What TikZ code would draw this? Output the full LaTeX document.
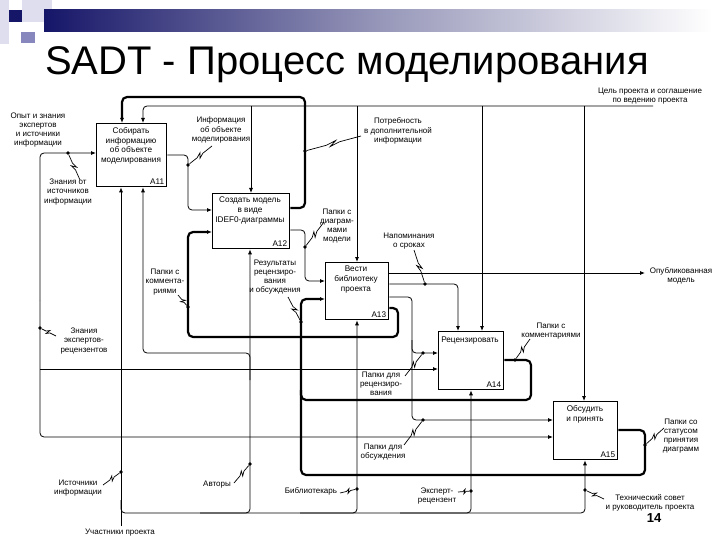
\documentclass[tikz,border=0pt]{standalone}
\usepackage{fontspec}
\setmainfont{Liberation Sans}
\usetikzlibrary{calc,arrows.meta}
\definecolor{navy}{RGB}{22,22,105}
\definecolor{barmid}{RGB}{150,150,185}
\definecolor{sqgray}{RGB}{135,135,190}
\definecolor{sqlight}{RGB}{222,222,238}
\newcommand\squiggle[2]{\draw[squig] (#1) -- ($(#1)!0.38!(#2)$) -- ($(#1)!0.56!(#2)!2.2pt!90:(#2)$) -- ($(#1)!0.44!(#2)!2.2pt!-90:(#2)$) -- ($(#1)!0.62!(#2)$) -- (#2);}
\tikzset{
  box/.style={draw, line width=1.3pt, anchor=north west, inner sep=0pt},
  lbl/.style={font=\fontsize{8}{9.2}\selectfont, align=center, inner sep=0pt},
  btxt/.style={font=\fontsize{8.2}{9.8}\selectfont, align=center, inner sep=0pt, anchor=north},
  bid/.style={font=\fontsize{8.2}{9.8}\selectfont, anchor=south east, inner sep=3pt},
  fine/.style={line width=0.8pt, rounded corners=4pt},
  fat/.style={line width=2.2pt, rounded corners=5pt},
  arr/.style={-{Latex[length=5pt,width=4pt]}},
  dotn/.style={circle, fill=black, inner sep=0pt, minimum size=3.6pt},
  squig/.style={line width=0.7pt}
}
\begin{document}
\begin{tikzpicture}[x=1pt,y=-1pt]
\useasboundingbox (0,0) rectangle (720,540);
\fill[white] (0,0) rectangle (720,540);
% decoration
\fill[sqlight] (0,0) rectangle (9,44);
\fill[sqlight] (22,0) rectangle (52,22);
\shade[left color=navy, right color=white, middle color=barmid] (44,10) rectangle (712,32);
\fill[navy] (9,10) rectangle (22,22);
\fill[sqgray] (21,32) rectangle (35,43);
% title
\node[anchor=base west, font=\fontsize{40}{46}\selectfont, inner sep=0pt] (title) at (45,75) {SADT - Процесс моделирования};
% boxes
\node[box, minimum width=70pt, minimum height=63pt] (A11) at (96,123) {};
\node[box, minimum width=77pt, minimum height=55pt] (A12) at (212,193) {};
\node[box, minimum width=63pt, minimum height=57pt] (A13) at (325,262) {};
\node[box, minimum width=65pt, minimum height=58pt] (A14) at (438,331) {};
\node[box, minimum width=64pt, minimum height=58pt] (A15) at (553,401) {};
\node[btxt] (A11t) at (131,127) {Собирать\\информацию\\об объекте\\моделирования};
\node[btxt] (A12t) at (250,197) {Создать модель\\в виде\\IDEF0-диаграммы};
\node[btxt] (A13t) at (356,266) {Вести\\библиотеку\\проекта};
\node[btxt] (A14t) at (470,337) {Рецензировать};
\node[btxt] (A15t) at (585,405) {Обсудить\\и принять};
\node[bid] (A11id) at (A11.south east) {A11};
\node[bid] (A12id) at (A12.south east) {A12};
\node[bid] (A13id) at (A13.south east) {A13};
\node[bid] (A14id) at (A14.south east) {A14};
\node[bid] (A15id) at (A15.south east) {A15};
% boundary coordinates
\coordinate (goal) at (653,106);
\coordinate (publ) at (645,273);
\coordinate (part) at (121,526);
% top: need for more information (thick)
\draw[fat,arr] (A12.east |- 0,208) -- (305,208) -- (305,97) -- (122,97) -- (A11.north -| 122,0);
% goal / agreement (thin)
\draw[fine,arr] (goal) -- (143,106) -- (A11.north -| 143,0);
\draw[fine,arr] (251,106) -- (A12.north -| 251,0);
\draw[fine,arr] (357,106) -- (A13.north -| 357,0);
\draw[fine,arr] (482,106) -- (A14.north -| 482,0);
\draw[fine,arr] (584,106) -- (A15.north -| 584,0);
% left input
\draw[fine,arr] (40,300) -- (40,153) -- (A11.west |- 0,153);
\draw[fine,arr] (40,300) -- (40,437) -- (A15.west |- 0,437);
\draw[fine,arr] (40,369) -- (A14.west |- 0,369);
% A11 output
\draw[fine,arr] (A11.east |- 0,155) -- (188,155) -- (188,210) -- (A12.west |- 0,210);
% A12 output (folders with diagrams)
\draw[fine,arr] (A12.east |- 0,230) -- (305,230) -- (305,281) -- (A13.west |- 0,281);
% A13 -> A12 (thick)
\draw[fat,arr] (A13.east |- 0,308) -- (398,308) -- (398,337) -- (188,337) -- (188,232) -- (A12.west |- 0,232);
% A13 outputs
\draw[fine,arr] (A13.east |- 0,273) -- (publ);
\draw[fine,arr] (A13.east |- 0,284) -- (458,284) -- (A14.north -| 458,0);
\draw[fine,arr] (A13.east |- 0,297) -- (412,297) -- (412,420) -- (A15.west |- 0,420);
\draw[fine,arr] (412,340) -- (412,353) -- (A14.west |- 0,353);
% A14 output loop
\draw[fat,arr] (A14.east |- 0,360) -- (531,360) -- (531,400) -- (301,400) -- (301,299) -- (A13.west |- 0,299);
% A15 output loop
\draw[fat] (A15.east |- 0,430) -- (645,430) -- (645,475) -- (301,475) -- (301,390);
% mechanisms
\draw[fine,arr] (part) -- (A11.south -| 121,0);
\draw[fine,arr] (121,500) -- (121,513) -- (250,513) -- (A12.south -| 250,0);
\draw[fine,arr] (200,513) -- (357,513) -- (A13.south -| 357,0);
\draw[fine,arr] (300,513) -- (471,513) -- (A14.south -| 471,0);
\draw[fine,arr] (400,513) -- (585,513) -- (A15.south -| 585,0);
\draw[fine,arr] (250,380) -- (250,353) -- (143,353) -- (A11.south -| 143,0);
% dots
\node[dotn] (dzn) at (68,153) {};
\node[dotn] (dek) at (40,328) {};
\node[dotn] (dinf) at (188,165) {};
\node[dotn] (dpotr) at (305,151) {};
\node[dotn] (dpap) at (305,247) {};
\node[dotn] (dkom) at (188,307) {};
\node[dotn] (drez) at (301,322) {};
\node[dotn] (dnap) at (425,284) {};
\node[dotn] (dkom2) at (515,360) {};
\node[dotn] (drec) at (423,353) {};
\node[dotn] (dobs) at (423,420) {};
\node[dotn] (dstat) at (645,445) {};
\node[dotn] (dist) at (121,472) {};
\node[dotn] (davt) at (250,464) {};
\node[dotn] (dbib) at (357,489) {};
\node[dotn] (deks) at (471,491) {};
\node[dotn] (dteh) at (585,490) {};
% labels
\node[lbl] (lopyt) at (38,130) {Опыт и знания\\экспертов\\и источники\\информации};
\node[lbl] (lzn) at (68,192) {Знания от\\источников\\информации};
\node[lbl] (linf) at (221,130) {Информация\\об объекте\\моделирования};
\node[lbl] (lpotr) at (398,131) {Потребность\\в дополнительной\\информации};
\node[lbl] (lgoal) at (650,96) {Цель проекта и соглашение\\по ведению проекта};
\node[lbl] (lpap) at (337,226) {Папки с\\диаграм-\\мами\\модели};
\node[lbl] (lkom) at (165,282) {Папки с\\коммента-\\риями};
\node[lbl] (lrez) at (275,277) {Результаты\\рецензиро-\\вания\\и обсуждения};
\node[lbl] (lnap) at (409,241) {Напоминания\\о сроках};
\node[lbl] (lpubl) at (681,276) {Опубликованная\\модель};
\node[lbl] (lkom2) at (551,331) {Папки с\\комментариями};
\node[lbl] (lrec) at (381,384) {Папки для\\рецензиро-\\вания};
\node[lbl] (lobs) at (383,452) {Папки для\\обсуждения};
\node[lbl] (lek) at (84,341) {Знания\\экспертов-\\рецензентов};
\node[lbl] (lstat) at (681,436) {Папки со\\статусом\\принятия\\диаграмм};
\node[lbl] (list) at (78,488) {Источники\\информации};
\node[lbl] (lavt) at (217,485) {Авторы};
\node[lbl] (lbib) at (311,491) {Библиотекарь};
\node[lbl] (leks) at (437,496) {Эксперт-\\рецензент};
\node[lbl] (lteh) at (650,503) {Технический совет\\и руководитель проекта};
\node[lbl] (lpart) at (120,533) {Участники проекта};
\node[font=\fontsize{13}{15}\selectfont\bfseries, inner sep=0pt] (pnum) at (654,518) {14};
% squiggle anchors
\coordinate (szn) at (80,180);
\coordinate (sek) at (56,336);
\coordinate (sinf) at (212,146);
\coordinate (spotr) at (361,136);
\coordinate (spap) at (324,222);
\coordinate (skom) at (178,295);
\coordinate (srez) at (288,297);
\coordinate (snap) at (414,250);
\coordinate (skom2) at (530,339);
\coordinate (srec) at (405,376);
\coordinate (sobs) at (404,445);
\coordinate (sstat) at (664,428);
\coordinate (sist) at (103,485);
\coordinate (savt) at (234,483);
\coordinate (sbib) at (340,493);
\coordinate (seks) at (458,492);
\coordinate (steh) at (604,499);
\squiggle{szn}{dzn}
\squiggle{sek}{dek}
\squiggle{sinf}{dinf}
\squiggle{spotr}{dpotr}
\squiggle{spap}{dpap}
\squiggle{skom}{dkom}
\squiggle{srez}{drez}
\squiggle{snap}{dnap}
\squiggle{skom2}{dkom2}
\squiggle{srec}{drec}
\squiggle{sobs}{dobs}
\squiggle{sstat}{dstat}
\squiggle{sist}{dist}
\squiggle{savt}{davt}
\squiggle{sbib}{dbib}
\squiggle{seks}{deks}
\squiggle{steh}{dteh}
\end{tikzpicture}
\end{document}
